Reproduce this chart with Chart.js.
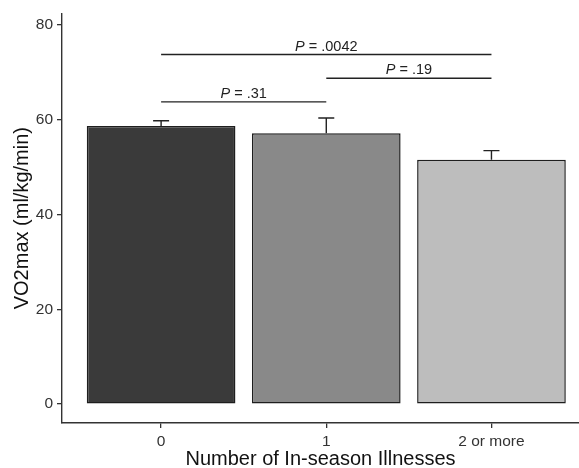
<!DOCTYPE html>
<html>
<head>
<meta charset="utf-8">
<script src="https://cdn.jsdelivr.net/npm/chart.js@4"></script>
<style>
  html, body { margin: 0; padding: 0; background: #fff; }
  #wrap { width: 579px; height: 468px; position: relative; }
</style>
</head>
<body>
<div id="wrap"><canvas id="vo2Chart"></canvas></div>
<script>
const categories = ["0", "1", "2 or more"];
const means = [58.7, 57.2, 51.6];
const errorTops = [59.8, 60.4, 53.5];
const barColors = ["#3a3a3a", "#898989", "#bdbdbd"];
const yTicks = [0, 20, 40, 60, 80];

// significance brackets: from category, to category, height, label
const bracketFrom = [1, 2, 1];
const bracketTo = [3, 3, 2];
const bracketY = [73.8, 68.8, 63.8];
const bracketLabels = [".0042", ".19", ".31"];

const extrasPlugin = {
  id: "extras",
  afterDatasetsDraw(chart) {
    const ctx = chart.ctx;
    const x = chart.scales.x;
    const y = chart.scales.y;
    ctx.save();
    ctx.strokeStyle = "#222";
    ctx.lineWidth = 1.4;

    // error bars (upper half only, lower half sits inside the bar)
    means.forEach((m, i) => {
      const cx = x.getPixelForValue(i + 1);
      const y0 = y.getPixelForValue(m);
      const y1 = y.getPixelForValue(errorTops[i]);
      ctx.beginPath();
      ctx.moveTo(cx, y0);
      ctx.lineTo(cx, y1);
      ctx.moveTo(cx - 8, y1);
      ctx.lineTo(cx + 8, y1);
      ctx.stroke();
    });

    // brackets with P values
    ctx.fillStyle = "#222";
    ctx.textBaseline = "alphabetic";
    bracketY.forEach((v, i) => {
      const x0 = x.getPixelForValue(bracketFrom[i]);
      const x1 = x.getPixelForValue(bracketTo[i]);
      const py = y.getPixelForValue(v);
      ctx.beginPath();
      ctx.moveTo(x0, py);
      ctx.lineTo(x1, py);
      ctx.stroke();

      const italic = "italic 14.5px 'Liberation Sans', Arial, sans-serif";
      const normal = "14.5px 'Liberation Sans', Arial, sans-serif";
      ctx.font = italic;
      const wP = ctx.measureText("P").width;
      ctx.font = normal;
      const rest = " = " + bracketLabels[i];
      const wR = ctx.measureText(rest).width;
      const start = (x0 + x1) / 2 - (wP + wR) / 2;
      ctx.textAlign = "left";
      ctx.font = italic;
      ctx.fillText("P", start, py - 4);
      ctx.font = normal;
      ctx.fillText(rest, start + wP, py - 4);
    });
    ctx.restore();
  }
};

const ctx = document.getElementById("vo2Chart").getContext("2d");

new Chart(ctx, {
  type: "bar",
  data: {
    datasets: [{
      label: "VO2max",
      data: means.map((m, i) => ({ x: i + 1, y: m })),
      backgroundColor: barColors,
      borderColor: "#1e1e1e",
      borderWidth: 1.5,
      borderSkipped: false,
      barPercentage: 0.9,
      categoryPercentage: 1.0
    }]
  },
  options: {
    responsive: true,
    maintainAspectRatio: false,
    animation: false,
    layout: { padding: { top: 12, right: 0, left: 0, bottom: 0 } },
    plugins: {
      legend: { display: false },
      tooltip: { enabled: false }
    },
    scales: {
      x: {
        type: "linear",
        offset: false,
        min: 0.4,
        max: 3.53,
        afterBuildTicks: (scale) => { scale.ticks = [1, 2, 3].map(v => ({ value: v })); },
        afterFit: (scale) => { scale.height = 45; },
        ticks: {
          callback: (v) => categories[v - 1],
          color: "#333",
          font: { family: "'Liberation Sans', Arial, sans-serif", size: 15.5 },
          padding: 4,
          maxRotation: 0,
          autoSkip: false
        },
        grid: { offset: false, drawOnChartArea: false, drawTicks: true, tickLength: 5, color: "#333", lineWidth: 1.3 },
        border: { display: true, color: "#333", width: 1.4 },
        title: {
          display: true,
          text: "Number of In-season Illnesses",
          color: "#111",
          font: { family: "'Liberation Sans', Arial, sans-serif", size: 20, lineHeight: 1 },
          padding: { top: 0, bottom: -1 }
        }
      },
      y: {
        min: -4,
        max: 82.5,
        afterBuildTicks: (scale) => { scale.ticks = yTicks.map(v => ({ value: v })); },
        afterFit: (scale) => { scale.width = 62; },
        ticks: {
          color: "#333",
          font: { family: "'Liberation Sans', Arial, sans-serif", size: 15.5 },
          padding: 4
        },
        grid: { drawOnChartArea: false, drawTicks: true, tickLength: 5, color: "#333", lineWidth: 1.3 },
        border: { display: true, color: "#333", width: 1.4 },
        title: {
          display: true,
          text: "VO2max (ml/kg/min)",
          color: "#111",
          font: { family: "'Liberation Sans', Arial, sans-serif", size: 20, lineHeight: 1 },
          padding: { top: 12, bottom: 0 }
        }
      }
    }
  },
  plugins: [extrasPlugin]
});
</script>
</body>
</html>
